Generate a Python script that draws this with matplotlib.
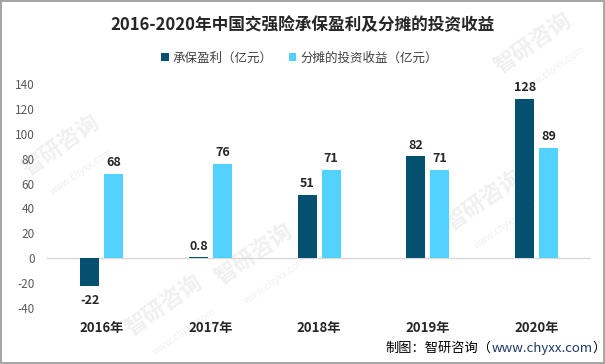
import numpy as np
import matplotlib
matplotlib.use("Agg")
import matplotlib.pyplot as plt

plt.rcParams['font.family'] = ['Noto Sans CJK SC', 'DejaVu Sans']

years = ["2016年", "2017年", "2018年", "2019年", "2020年"]
profit = [-22, 0.8, 51, 82, 128]
invest = [68, 76, 71, 71, 89]
profit_labels = ["-22", "0.8", "51", "82", "128"]
invest_labels = ["68", "76", "71", "71", "89"]
yticks = [-40, -20, 0, 20, 40, 60, 80, 100, 120, 140]

DARK = "#03506F"
LIGHT = "#52D3FF"
TXT = "#262626"

fig = plt.figure(figsize=(6.05, 3.64), dpi=100)
fig.patch.set_edgecolor("#a6a6a6")
fig.patch.set_linewidth(1.5)

# watermarks (faint, behind everything)
for wx, wy in [(0.1, 0.6), (0.42, 0.3), (0.8, 0.45), (0.88, 0.88), (0.27, 0.16)]:
    fig.text(wx, wy, "智研咨询", rotation=35, fontsize=16, color="#f0f0f0",
             ha="center", va="center", fontweight="bold", zorder=-5)
    fig.text(wx + 0.035, wy - 0.07, "www.chyxx.com", rotation=35, fontsize=7,
             color="#f0f0f0", ha="center", va="center", zorder=-5)

ax = fig.add_axes([0.078, 0.154, 0.899, 0.615])
ax.patch.set_alpha(0)

x = np.arange(len(years))
w = 0.175
off = 0.11
b1 = ax.bar(x - off, profit, w, color=DARK, label="承保盈利（亿元）", zorder=3)
b2 = ax.bar(x + off, invest, w, color=LIGHT, label="分摊的投资收益（亿元）", zorder=3)

for xi, v, s in zip(x, profit, profit_labels):
    dy = -11 if v < 0 else 8
    ax.annotate(s, (xi - off, v), xytext=(0, dy), textcoords="offset points",
                ha="center", va="center", fontsize=9, fontweight="bold", color=TXT)
for xi, v, s in zip(x, invest, invest_labels):
    ax.annotate(s, (xi + off, v), xytext=(0, 8), textcoords="offset points",
                ha="center", va="center", fontsize=9, fontweight="bold", color=TXT)

ax.set_xlim(-0.5, len(years) - 0.5)
ax.set_ylim(-40, 140)
ax.set_yticks(yticks)
ax.set_yticklabels([str(t) for t in yticks], fontsize=8.5, color="#595959")
ax.tick_params(axis="y", length=0, pad=9)
ax.set_xticks([])
for xi, yr in zip(x, years):
    ax.text(xi, -56, yr, ha="center", va="center", fontsize=9.5,
            fontweight="bold", color=TXT)
for s in ax.spines.values():
    s.set_visible(False)
ax.axhline(0, color="#d9d9d9", lw=1, zorder=2)

fig.text(0.5, 0.93, "2016-2020年中国交强险承保盈利及分摊的投资收益", ha="center",
         va="center", fontsize=12, fontweight="bold", color=TXT)
fig.legend(handles=[b1, b2], loc="center", bbox_to_anchor=(0.495, 0.84), ncol=2,
           frameon=False, fontsize=9, handlelength=0.6, handleheight=0.6,
           handletextpad=0.3, columnspacing=1.3, labelcolor="#404040")

t1 = fig.text(0.637, 0.033, "制图：智研咨询（", fontsize=9.5, color="black",
              ha="left", va="baseline")
t2 = ax.annotate("www.chyxx.com", xy=(1, 0), xycoords=t1, fontsize=9.5,
                 color="#1F3864", ha="left", va="bottom")
ax.annotate("）", xy=(1, 0), xycoords=t2, fontsize=9.5, color="black",
            ha="left", va="bottom")

fig.savefig("out.png", dpi=100)
